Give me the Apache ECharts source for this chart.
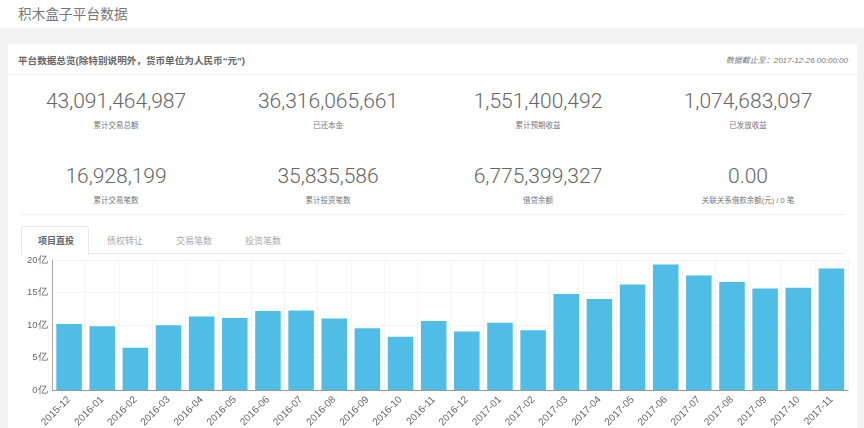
<!DOCTYPE html>
<html>
<head>
<meta charset="utf-8">
<script src="https://cdn.jsdelivr.net/npm/echarts@6/dist/echarts.min.js"></script>
<style>
html, body { margin: 0; padding: 0; width: 864px; height: 428px; overflow: hidden; background: #f3f3f3; }
body, div { font-family: "Liberation Sans", "Noto Sans CJK SC", sans-serif; box-sizing: border-box; }
.abs { position: absolute; white-space: nowrap; }
#head { left: 0; top: 0; width: 864px; height: 28px; background: #fff; color: #777; font-size: 13.5px; padding: 3px 0 0 18px; letter-spacing: .2px; }
#card { left: 8px; top: 44px; width: 849px; height: 384px; background: #fff; }
#cardTitle { left: 18px; top: 53px; font-size: 9.6px; font-weight: bold; color: #666; }
#asOf { right: 16px; top: 54px; font-size: 8px; font-style: italic; color: #777; }
.line { background: #eee; height: 1px; }
.num { font-family: Roboto, "Liberation Sans", sans-serif; font-weight: 300; font-size: 21px; color: #666; transform: translateX(-50%); }
.lab { font-size: 7.5px; color: #777; transform: translateX(-50%); }
.tab { font-size: 9px; color: #aaa; transform: translateX(-50%); top: 234px; }
#tabBox { left: 21px; top: 226px; width: 68px; height: 29px; background: #fff; border: 1px solid #e8e8e8; border-bottom: none; border-radius: 3px 3px 0 0; }
#chart { position: absolute; left: 0; top: 250px; width: 864px; height: 178px; }
</style>
</head>
<body>
<div class="abs" id="head">积木盒子平台数据</div>
<div class="abs" id="card"></div>
<div class="abs" id="cardTitle">平台数据总览(除特别说明外，货币单位为人民币“元”)</div>
<div class="abs" id="asOf">数据截止至：2017-12-26 00:00:00</div>
<div class="abs line" style="left:8px;top:74px;width:849px"></div>
<div class="abs line" style="left:21px;top:214px;width:823px"></div>
<div class="abs line" style="left:21px;top:253px;width:823px;background:#e8e8e8"></div>
<div class="abs" id="tabBox"></div>
<div id="chart"></div>
<script>
var statValues = ['43,091,464,987', '36,316,065,661', '1,551,400,492', '1,074,683,097',
    '16,928,199', '35,835,586', '6,775,399,327', '0.00'];
var statLabels = ['累计交易总额', '已还本金', '累计预期收益', '已发放收益',
    '累计交易笔数', '累计投资笔数', '借贷余额', '关联关系借款余额(元) / 0 笔'];
var tabNames = ['项目直投', '债权转让', '交易笔数', '投资笔数'];

var months = ['2015-12', '2016-01', '2016-02', '2016-03', '2016-04', '2016-05', '2016-06', '2016-07',
    '2016-08', '2016-09', '2016-10', '2016-11', '2016-12', '2017-01', '2017-02', '2017-03',
    '2017-04', '2017-05', '2017-06', '2017-07', '2017-08', '2017-09', '2017-10', '2017-11'];
var amounts = [10.15, 9.8, 6.5, 9.95, 11.3, 11.07, 12.15, 12.25, 11.0, 9.5, 8.2, 10.6,
    9.0, 10.35, 9.2, 14.77, 14.0, 16.25, 19.3, 17.6, 16.6, 15.6, 15.75, 18.7];

// stat blocks and tabs
var columnX = [116, 328, 538, 748];
var rowY = [89, 164];
function addText(cls, text, x, y) {
    var d = document.createElement('div');
    d.className = 'abs ' + cls;
    d.textContent = text;
    d.style.left = x + 'px';
    if (y != null) d.style.top = y + 'px';
    document.body.appendChild(d);
    return d;
}
statValues.forEach(function (v, i) {
    var x = columnX[i % 4], y = rowY[Math.floor(i / 4)];
    addText('num', v, x, y);
    addText('lab', statLabels[i], x, y + 30);
});
var tabX = [56, 125, 194, 263];
tabNames.forEach(function (t, i) {
    var d = addText('tab', t, tabX[i]);
    if (i === 0) { d.style.color = '#666'; d.style.fontWeight = 'bold'; }
});

// bar chart
var myChart = echarts.init(document.getElementById('chart'));
var option = {
    animation: false,
    grid: { left: 52.5, right: 16, top: 10, bottom: 38, outerBoundsMode: 'none' },
    xAxis: {
        type: 'category',
        data: months,
        axisLine: { lineStyle: { color: '#999' } },
        axisTick: { length: 3, lineStyle: { color: '#888' } },
        axisLabel: { rotate: 45, interval: 0, fontSize: 10, color: '#666', margin: 8 },
        splitLine: { show: true, lineStyle: { color: '#f5f5f5' } }
    },
    yAxis: {
        type: 'value',
        min: 0,
        max: 20,
        interval: 5,
        axisLine: { show: true, lineStyle: { color: '#aaa' } },
        axisTick: { show: false },
        axisLabel: { fontSize: 9.5, color: '#666', margin: 5, formatter: '{value}亿' },
        splitLine: { show: true, lineStyle: { color: '#f5f5f5' } }
    },
    series: [
        {
            type: 'bar',
            data: amounts,
            barWidth: '77%',
            itemStyle: { color: '#4fbde6' }
        }
    ]
};
myChart.setOption(option);
</script>
</body>
</html>
